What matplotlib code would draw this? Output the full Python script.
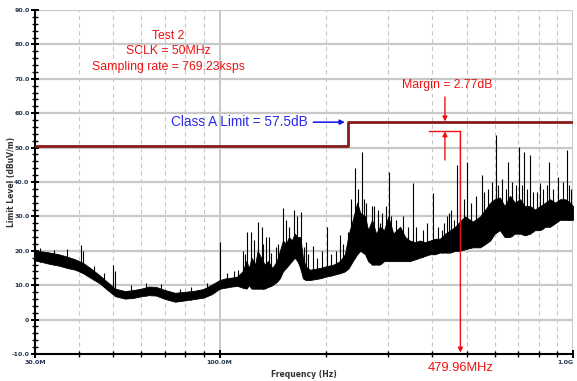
import numpy as np
import matplotlib
matplotlib.use("Agg")
import matplotlib.pyplot as plt
from matplotlib.ticker import FixedLocator, NullFormatter, FixedFormatter

# ---- data (MHz, dBuV/m) ----
limit_freq = [30, 230, 230, 1000]
limit_level = [50.5, 50.5, 57.5, 57.5]

env_freq = [30, 31.5, 33, 35, 37, 39, 41, 43, 45.8, 48, 50.6, 53.9, 57, 60, 63, 66,
            70, 74.7, 80, 85, 90, 95,
            100, 104, 108, 112, 116, 119, 121, 123, 126, 128, 131, 134, 137, 141,
            145, 148, 151, 154, 157, 160, 163, 166, 169, 172, 175,
            180, 192, 200, 210, 219, 226, 232, 238, 245, 250, 258, 263, 270, 277,
            284, 292, 300, 310, 324, 335, 345, 357, 369, 381, 394, 407, 420, 435,
            450, 464, 478, 495, 520, 546, 565, 583, 600, 621, 640, 663, 685, 708,
            730, 756, 780, 807, 835, 861, 890, 919, 950, 981, 1000]
env_low = [17.2, 16.7, 16.2, 15.7, 15.0, 14.5, 13.5, 12.2, 10.5, 8.7, 6.8, 6.1, 6.3, 6.8, 7.1, 7.0,
           6.0, 5.2, 5.6, 6.0, 6.4, 7.4,
           9.0, 9.3, 9.6, 9.8, 9.3, 9, 10, 9, 9, 9, 9, 9, 9.5, 10,
           11, 12, 14, 15, 16, 17, 18, 17, 15, 12, 11.5,
           11.5, 12, 12.5, 13, 13.5, 14, 15, 17, 19, 20, 19, 17, 16, 16,
           16, 17, 17, 17, 17, 17, 17, 17.5, 18, 18.5, 19, 19, 19.5, 19.5,
           19.5, 20, 20, 20.5, 21, 21, 22, 23, 25, 26, 24, 24, 25, 25,
           24.5, 25, 26, 26, 27, 27, 28, 29, 29, 29, 29]
env_high = [20, 19.8, 19.5, 19, 18.3, 17.5, 16.5, 15, 12.8, 11, 9, 8.3, 8.6, 9, 9.6, 9.5,
            8.6, 7.8, 8.1, 8.4, 8.9, 10.2,
            11.5, 12, 12.2, 12.5, 14, 17, 15, 18, 16, 20, 18, 16, 17, 15,
            17, 20, 23, 22, 24, 23, 25, 24, 24, 18, 15.5,
            14.5, 15, 15.5, 16, 17, 19, 25, 29, 34, 31, 30, 26, 29, 25,
            27, 26, 30, 25, 27, 24, 23, 22.5, 23, 22.5, 23, 23.5, 23.5, 25,
            26, 27, 28.5, 30, 28.5, 30, 32, 34, 35, 35.5, 33, 36, 34, 35,
            33, 33, 32, 33, 34, 35, 34, 35, 35, 34, 33]

spike_freq = [31, 34, 37.0, 40.5, 41.0, 44, 47, 49.9, 50.6, 56, 62, 68, 77, 83, 92,
              100.2, 105, 110, 113, 116.4, 118, 119.5, 122.7, 125.1, 128.4, 131.8,
              133, 135.2, 137.9, 140, 144, 146, 151.1, 154.1, 157.1, 162.3, 165.5,
              169.9, 173, 175.4, 178, 183.7, 188, 195, 201.3, 206, 214, 219.1, 223,
              230.8, 236, 241.6, 247, 252.8, 256, 260, 269.9, 274, 280, 284.3, 288,
              295, 301.5, 306, 316, 330, 341, 352.5, 360, 375, 385, 401.6, 415, 425,
              430, 440, 445, 451.9, 460.8, 469.6, 479.96, 490, 501, 515, 530, 552.8,
              560, 575, 590, 605.5, 615, 630, 645, 655, 670, 690, 703.8, 715, 726.8,
              740, 756, 770, 790, 806.8, 820, 845, 855.6, 875, 907, 935, 962, 975, 990]
spike_peak = [20.8, 20.2, 20.5, 21.7, 20, 15.5, 13.5, 15.9, 14, 10, 10.5, 10.3, 9, 9.5, 10.5,
              22.6, 13.5, 14, 14.5, 20, 19, 25.5, 25.5, 23, 28.4, 27,
              22, 24, 24, 19.5, 21, 22, 32.4, 29, 27, 31.9, 30,
              31.3, 21, 22.6, 19, 21.5, 18, 20, 27, 19, 20, 24.5, 22,
              25.5, 35, 44, 38, 48.7, 35, 34, 33, 33, 32, 28, 31,
              33, 43, 30, 29, 30, 27, 39.7, 27, 26, 28, 36.8, 27, 26,
              28, 30, 31, 32, 29, 45, 54.73, 35, 45.8, 34, 36, 42,
              37, 38, 40, 53.7, 39, 41, 38, 45.8, 40, 39, 50.2, 39, 48.7,
              38, 47.8, 37, 37, 39.7, 38, 39, 45.8, 38, 41.5, 40, 49.3, 39, 38]

margin_freq = 479.96
margin_peak = 54.73

# ---- figure ----
fig = plt.figure(figsize=(5.77, 3.81), dpi=100)
ax = fig.add_axes([35/577, 1-354/381, (573-35)/577, (354-10)/381])
ax.set_xscale("log")
ax.set_xlim(30, 1000)
ax.set_ylim(-10, 90)

grid_c = "#c8c8c8"
for v in range(0, 91, 10):
    ax.axhline(v, color=grid_c, lw=1.6, zorder=0)
for f in [40, 50, 60, 70, 80, 90, 200, 300, 400, 500, 600, 700, 800, 900]:
    ax.axvline(f, color=grid_c, lw=0.8, ls=(0, (4, 3)), zorder=0)
for f in [100, 1000]:
    ax.axvline(f, color=grid_c, lw=1.4, zorder=0)

# emission trace
ax.fill_between(env_freq, env_low, env_high, color="black", lw=0.6,
                edgecolor="black", zorder=2)
lf = np.log10(env_freq)
base = np.interp(np.log10(spike_freq), lf, env_low)
ax.vlines(spike_freq, base, spike_peak, color="black", lw=0.8, zorder=2)

# limit line
ax.plot(limit_freq, limit_level, color="#8b1a1a", lw=2.0, zorder=3)

# spines / ticks
for s in ["top", "right"]:
    ax.spines[s].set_visible(False)
ax.spines["left"].set_linewidth(1.5)
ax.spines["bottom"].set_linewidth(1.5)
ax.xaxis.set_major_locator(FixedLocator([30, 100, 1000]))
ax.xaxis.set_major_formatter(FixedFormatter(["30.0M", "100.0M", "1.0G"]))
ax.xaxis.set_minor_locator(FixedLocator([40, 50, 60, 70, 80, 90, 200, 300, 400,
                                         500, 600, 700, 800, 900]))
ax.xaxis.set_minor_formatter(NullFormatter())
ax.yaxis.set_major_locator(FixedLocator(list(range(-10, 91, 10))))
ax.yaxis.set_major_formatter(FixedFormatter(
    ["-10.0", "0", "10.0", "20.0", "30.0", "40.0", "50.0", "60.0", "70.0", "80.0", "90.0"]))
ax.yaxis.set_minor_locator(FixedLocator([v for v in range(-10, 91, 2) if v % 10]))
tick_c = "#27344f"
ax.tick_params(axis="both", which="major", direction="inout", length=6, width=1.4,
               labelsize=4.5, labelcolor=tick_c, pad=1)
ax.tick_params(axis="both", which="minor", direction="inout", length=4, width=1.0)
for lab in ax.get_xticklabels() + ax.get_yticklabels():
    lab.set_fontweight("bold")
ax.get_xticklabels()[-1].set_horizontalalignment("right")
ax.set_xlabel("Frequency (Hz)", fontsize=5.5, fontweight="bold", color="#333333")
ax.set_ylabel("Limit Level (dBuV/m)", fontsize=5.5, fontweight="bold", color="#333333")
ax.xaxis.set_label_coords(0.5, -0.047)
ax.yaxis.set_label_coords(-0.036, 0.5)

fam = ["Liberation Sans", "DejaVu Sans"]
red = "#ee1111"
blue = "#2a2aee"
ax.text(71.4, 82.4, "Test 2", color=red, fontsize=8.8, ha="center", va="center", family=fam)
ax.text(71.4, 78.0, "SCLK = 50MHz", color=red, fontsize=8.8, ha="center", va="center", family=fam)
ax.text(71.4, 73.4, "Sampling rate = 769.23ksps", color=red, fontsize=8.8, ha="center",
        va="center", family=fam)
ax.text(177, 57.4, "Class A Limit = 57.5dB", color=blue, fontsize=9.8, ha="right",
        va="center", family=fam)
ax.annotate("", xy=(226, 57.4), xytext=(184, 57.4),
            arrowprops=dict(arrowstyle="-|>", color="#1010ee", lw=1.1,
                            mutation_scale=7, shrinkA=0, shrinkB=0))
ax.text(440, 68.2, "Margin = 2.77dB", color=red, fontsize=8.8, ha="center",
        va="center", family=fam)
ax.annotate("", xy=(434, 57.6), xytext=(434, 64.7),
            arrowprops=dict(arrowstyle="-|>", color=red, lw=1.0,
                            mutation_scale=7, shrinkA=0, shrinkB=0))
ax.annotate("", xy=(434, margin_peak), xytext=(434, 46.4),
            arrowprops=dict(arrowstyle="-|>", color=red, lw=1.0,
                            mutation_scale=7, shrinkA=0, shrinkB=0))
ax.plot([391, margin_freq], [margin_peak, margin_peak], color=red, lw=1.0, zorder=4)
ax.annotate("", xy=(margin_freq, -9.6), xytext=(margin_freq, margin_peak),
            arrowprops=dict(arrowstyle="-|>", color=red, lw=1.0,
                            mutation_scale=7, shrinkA=0, shrinkB=0), zorder=4)
ax.text(margin_freq, -14.1, "479.96MHz", color=red, fontsize=9.3, ha="center",
        va="center", family=fam, clip_on=False)

fig.savefig("out.png", dpi=100)
